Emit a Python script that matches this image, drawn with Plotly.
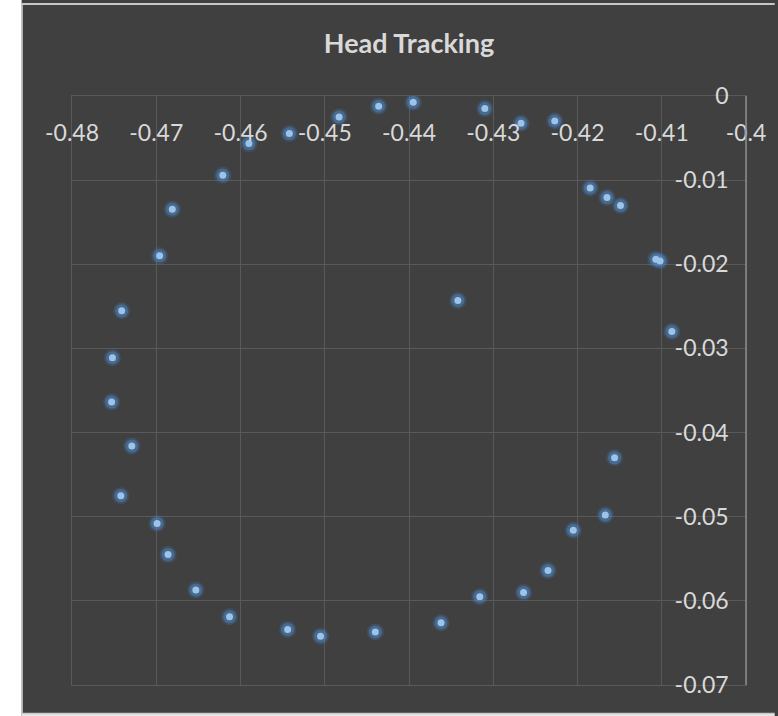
import plotly.graph_objects as go

# Data
x_vals = [-0.4395, -0.4436, -0.4483, -0.4542, -0.4590, -0.4621, -0.4681, -0.4696,
          -0.4741, -0.4752, -0.4753, -0.4729, -0.4742, -0.4699, -0.4686, -0.4653,
          -0.4613, -0.4544, -0.4505, -0.4440, -0.4362, -0.4316, -0.4264, -0.4235,
          -0.4205, -0.4167, -0.4156, -0.4088, -0.4102, -0.4107, -0.4149, -0.4165,
          -0.4185, -0.4227, -0.4267, -0.4310, -0.4342]
y_vals = [-0.00075, -0.00122, -0.0025, -0.00447, -0.00566, -0.00942, -0.01346, -0.0190,
          -0.02553, -0.0311, -0.03638, -0.0416, -0.0475, -0.0508, -0.0545, -0.0587,
          -0.0619, -0.0634, -0.0642, -0.0637, -0.0626, -0.0595, -0.0590, -0.0564,
          -0.0516, -0.0498, -0.0430, -0.0280, -0.0196, -0.0194, -0.01302, -0.01207,
          -0.01093, -0.00297, -0.00324, -0.0015, -0.0243]

x_tick_vals = [-0.48, -0.47, -0.46, -0.45, -0.44, -0.43, -0.42, -0.41, -0.40]
x_tick_text = ["-0.48", "-0.47", "-0.46", "-0.45", "-0.44", "-0.43", "-0.42", "-0.41", "-0.4"]
y_tick_vals = [0, -0.01, -0.02, -0.03, -0.04, -0.05, -0.06, -0.07]
y_tick_text = ["0", "-0.01", "-0.02", "-0.03", "-0.04", "-0.05", "-0.06", "-0.07"]

W, H = 778, 716
ML, MR, MT, MB = 72, 24, 96, 31
PW, PH = W - ML - MR, H - MT - MB

def px_x(p):
    return (p - ML) / PW

def px_y(p):
    return (H - MB - p) / PH

BG = "#404040"
GRID = "#595959"
AXIS = "#8c8c8c"
TXT = "#d9d9d9"
FONT = "Lato"

fig = go.Figure()
# glow layers
fig.add_trace(go.Scatter(x=x_vals, y=y_vals, mode="markers", hoverinfo="skip",
                         marker=dict(size=17, color="rgba(70,130,200,0.22)", line=dict(width=0)),
                         showlegend=False))
fig.add_trace(go.Scatter(x=x_vals, y=y_vals, mode="markers", hoverinfo="skip",
                         marker=dict(size=13, color="rgba(80,140,210,0.45)", line=dict(width=0)),
                         showlegend=False))
fig.add_trace(go.Scatter(x=x_vals, y=y_vals, mode="markers", name="Head",
                         marker=dict(size=7, color="#9dc3e6", line=dict(width=0)),
                         showlegend=False))

shapes = [
    # white strip on the left
    dict(type="rect", xref="paper", yref="paper", x0=px_x(-5), x1=px_x(21), y0=px_y(-5), y1=px_y(H + 5),
         fillcolor="white", line=dict(width=0), layer="below"),
    # left border line
    dict(type="line", xref="paper", yref="paper", x0=px_x(21.5), x1=px_x(21.5), y0=px_y(4), y1=px_y(713.5),
         line=dict(color="#c8c8c8", width=1.5), layer="below"),
    # top border line
    dict(type="line", xref="paper", yref="paper", x0=px_x(21), x1=px_x(W + 5), y0=px_y(4), y1=px_y(4),
         line=dict(color="#c8c8c8", width=2), layer="below"),
    # bottom strip
    dict(type="rect", xref="paper", yref="paper", x0=px_x(21), x1=px_x(W + 5), y0=px_y(714), y1=px_y(H + 5),
         fillcolor="#e8e8e8", line=dict(width=0), layer="below"),
    dict(type="line", xref="paper", yref="paper", x0=px_x(21), x1=px_x(W + 5), y0=px_y(713.5), y1=px_y(713.5),
         line=dict(color="#c8c8c8", width=1.5), layer="below"),
    # vertical axis line (crosses at x = -0.4), lighter than the grid
    dict(type="line", xref="paper", yref="paper", x0=1, x1=1, y0=0, y1=1,
         line=dict(color=AXIS, width=1.5), layer="above"),
]

fig.update_layout(
    width=W, height=H,
    margin=dict(l=ML, r=MR, t=MT, b=MB, pad=0),
    paper_bgcolor=BG, plot_bgcolor=BG,
    font=dict(family=FONT, color=TXT, size=23),
    title=dict(text="<b>Head Tracking</b>", font=dict(family=FONT, size=27, color=TXT),
               xref="container", yref="container", x=409 / W, xanchor="center",
               y=1 - 44 / H, yanchor="middle"),
    shapes=shapes,
    xaxis=dict(range=[-0.48, -0.40], side="top", tickvals=x_tick_vals, ticktext=x_tick_text,
               ticklabelposition="inside", ticklabeloverflow="allow", ticks="",
               showgrid=True, gridcolor=GRID, gridwidth=1,
               showline=True, mirror=True, linecolor=GRID, linewidth=1, zeroline=False,
               tickfont=dict(family=FONT, size=23, color=TXT), ticklabelstandoff=31,
               fixedrange=True),
    yaxis=dict(range=[-0.07, 0], side="right", tickvals=y_tick_vals, ticktext=y_tick_text,
               ticklabelposition="inside", ticklabeloverflow="allow", ticks="",
               showgrid=True, gridcolor=GRID, gridwidth=1,
               showline=True, mirror=True, linecolor=GRID, linewidth=1, zeroline=False,
               tickfont=dict(family=FONT, size=23, color=TXT), ticklabelstandoff=19,
               fixedrange=True),
)

fig.write_html("out.html", config={"displayModeBar": False},
               post_script="document.body.style.margin='0';document.body.style.overflow='hidden';")
